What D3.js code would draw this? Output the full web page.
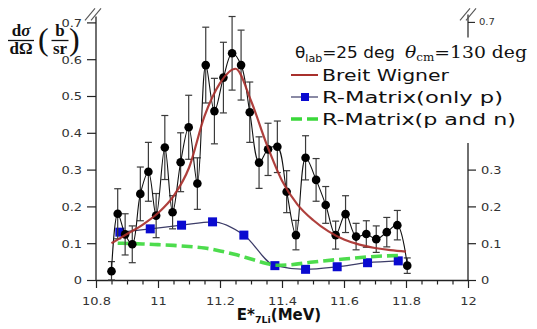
<!DOCTYPE html>
<html>
<head>
<meta charset="utf-8">
<script src="https://cdn.jsdelivr.net/npm/d3@7/dist/d3.min.js"></script>
<style>
  body { margin: 0; background: #fff; }
  svg { display: block; }
</style>
</head>
<body>
<svg id="chart" width="537" height="329"></svg>
<script>
// Measured differential cross section with statistical errors
const energy = [10.85, 10.87, 10.894, 10.917, 10.943, 10.969, 10.994, 11.022, 11.047, 11.073,
                11.099, 11.127, 11.154, 11.182, 11.211, 11.239, 11.268, 11.296, 11.326, 11.355,
                11.385, 11.415, 11.445, 11.476, 11.51, 11.541, 11.573, 11.605, 11.639, 11.672,
                11.704, 11.738, 11.772, 11.804];
const crossSection = [0.024, 0.18, 0.124, 0.097, 0.234, 0.294, 0.175, 0.36, 0.184, 0.32,
                      0.415, 0.262, 0.584, 0.459, 0.55, 0.616, 0.584, 0.456, 0.319, 0.355,
                      0.362, 0.24, 0.122, 0.332, 0.272, 0.204, 0.122, 0.179, 0.118, 0.125,
                      0.111, 0.13, 0.149, 0.039];
const crossSectionErr = [0.026, 0.068, 0.056, 0.05, 0.073, 0.08, 0.06, 0.087, 0.045, 0.08,
                         0.087, 0.07, 0.103, 0.089, 0.096, 0.1, 0.095, 0.082, 0.07, 0.071,
                         0.07, 0.057, 0.04, 0.06, 0.058, 0.05, 0.038, 0.05, 0.036, 0.036,
                         0.036, 0.04, 0.04, 0.021];

// Breit-Wigner fit
const bwEnergy = [10.85, 10.9, 10.95, 11.0, 11.05, 11.1, 11.15, 11.2, 11.25, 11.3,
                  11.35, 11.4, 11.45, 11.5, 11.55, 11.6, 11.65, 11.7, 11.75, 11.8];
const bwValue = [0.1, 0.125, 0.15, 0.182, 0.228, 0.305, 0.445, 0.535, 0.574, 0.487,
                 0.37, 0.27, 0.205, 0.163, 0.132, 0.11, 0.096, 0.087, 0.081, 0.077];

// R-matrix calculation, proton channel only
const rpEnergy = [10.877, 10.975, 11.076, 11.176, 11.277, 11.377, 11.476, 11.578, 11.676, 11.775];
const rpValue = [0.13, 0.139, 0.149, 0.158, 0.122, 0.039, 0.029, 0.036, 0.047, 0.052];

// R-matrix calculation, proton and neutron channels
const rpnEnergy = [10.87, 10.95, 11.0, 11.05, 11.1, 11.15, 11.2, 11.25, 11.3, 11.35,
                   11.38, 11.42, 11.5, 11.6, 11.7, 11.79];
const rpnValue = [0.1, 0.098, 0.096, 0.094, 0.091, 0.087, 0.079, 0.069, 0.057, 0.045,
                  0.04, 0.041, 0.049, 0.057, 0.064, 0.067];

// Axis ticks
const xTickLabels = [10.8, 11, 11.2, 11.4, 11.6, 11.8, 12];
const xMinorStep = 0.05;
const yLeftTicks = [0, 0.1, 0.2, 0.3, 0.4, 0.5, 0.6, 0.7];
const yRightTicks = [0, 0.1, 0.2, 0.3];

const legendLabels = ["Breit Wigner", "R-Matrix(only p)", "R-Matrix(p and n)"];

const svg = d3.select("#chart");
const x = d3.scaleLinear().domain([10.8, 12]).range([96, 468]);
const y = d3.scaleLinear().domain([0, 0.7]).range([280, 22.4]);

const AXIS = "#222";
const TICKFONT = "DejaVu Sans";
const SX = 1.18; // horizontal glyph stretch

// ---------- axes ----------
const xMinor = d3.range(0, Math.round((12 - 10.8) / xMinorStep) + 1).map(i => +(10.8 + i * xMinorStep).toFixed(2));
const isMajor = v => xTickLabels.some(t => Math.abs(t - v) < 1e-6);

const gx = svg.append("g").attr("transform", `translate(0,${y(0)})`)
  .call(d3.axisBottom(x).tickValues(xMinor).tickSizeOuter(0)
    .tickFormat(d => isMajor(d) ? d3.format("~g")(d) : ""));
gx.select(".domain").attr("stroke", AXIS).attr("stroke-width", 1.3);
gx.selectAll(".tick line").attr("stroke", AXIS).attr("stroke-width", 1.2)
  .attr("y2", d => isMajor(d) ? 8 : 4.5);
gx.selectAll(".tick text").attr("fill", "#333").attr("font-family", TICKFONT)
  .attr("font-size", 11).attr("y", 0).attr("dy", 0)
  .attr("transform", `translate(0,25) scale(${SX},1)`);

const gyl = svg.append("g").attr("transform", `translate(${x(10.8)},0)`)
  .call(d3.axisLeft(y).tickValues(yLeftTicks).tickSize(9).tickSizeOuter(0).tickFormat(d3.format("~g")));
gyl.select(".domain").attr("stroke", AXIS).attr("stroke-width", 1.3)
  .attr("d", `M0,${y(0)}V${y(0.7) - 6}`);
gyl.selectAll(".tick line").attr("stroke", AXIS).attr("stroke-width", 1.2);
gyl.selectAll(".tick text").attr("fill", "#333").attr("font-family", TICKFONT)
  .attr("font-size", 11).attr("x", 0).attr("dy", "0.35em")
  .attr("transform", `translate(-14,0) scale(${SX},1)`);

// right axis: lower segment with ticks, upper stub with the 0.7 tick
const gyr = svg.append("g").attr("transform", `translate(${x(12)},0)`)
  .call(d3.axisRight(y).tickValues(yRightTicks).tickSize(8).tickSizeOuter(0).tickFormat(d3.format("~g")));
gyr.select(".domain").attr("stroke", AXIS).attr("stroke-width", 1.3)
  .attr("d", `M0,${y(0)}V${y(0.372)}`);
gyr.selectAll(".tick line").attr("stroke", AXIS).attr("stroke-width", 1.2);
gyr.selectAll(".tick text").attr("fill", "#333").attr("font-family", TICKFONT)
  .attr("font-size", 11).attr("x", 0).attr("dy", "0.35em")
  .attr("transform", `translate(13,0) scale(${SX},1)`);

const stub = svg.append("g").attr("transform", `translate(${x(12)},0)`);
stub.append("line").attr("x1", 0).attr("x2", 0).attr("y1", y(0.7) - 8).attr("y2", y(0.7) + 15)
  .attr("stroke", AXIS).attr("stroke-width", 1.2);
stub.append("line").attr("x1", 0).attr("x2", 7).attr("y1", y(0.7)).attr("y2", y(0.7))
  .attr("stroke", AXIS).attr("stroke-width", 1.1);
stub.append("text").attr("x", 0).attr("y", 0).attr("dy", "0.35em")
  .attr("transform", `translate(11,${y(0.7)}) scale(${SX},1)`)
  .attr("font-family", TICKFONT).attr("font-size", 8.5).attr("fill", "#333").text("0.7");

// axis break marks
function breakMark(cx, cy) {
  [-3, 3].forEach(o => {
    svg.append("line")
      .attr("x1", cx + o - 5).attr("y1", cy + 6).attr("x2", cx + o + 5).attr("y2", cy - 6)
      .attr("stroke", "#555").attr("stroke-width", 1.1);
  });
}
breakMark(x(10.8) - 3, y(0.7) - 8);
breakMark(x(12) + 0, y(0.7) - 8);

// ---------- data marks ----------
const plot = svg.append("g");

// R-matrix (p and n) dashed curve
const rpnLine = d3.line().x(d => x(d[0])).y(d => y(d[1])).curve(d3.curveMonotoneX);
// R-matrix (only p) curve
const rpLine = d3.line().x(d => x(d[0])).y(d => y(d[1])).curve(d3.curveMonotoneX);
plot.append("path").datum(d3.zip(rpEnergy, rpValue))
  .attr("d", rpLine).attr("fill", "none").attr("stroke", "#3c3c68").attr("stroke-width", 1.2);
plot.selectAll(".rp").data(d3.zip(rpEnergy, rpValue)).join("rect").attr("class", "rp")
  .attr("x", d => x(d[0]) - 4.5).attr("y", d => y(d[1]) - 4.5)
  .attr("width", 9).attr("height", 9).attr("fill", "#0a0ad0");
plot.append("path").datum(d3.zip(rpnEnergy, rpnValue))
  .attr("d", rpnLine).attr("fill", "none").attr("stroke", "#3ad83a").attr("stroke-opacity", 0.9)
  .attr("stroke-width", 3.6).attr("stroke-dasharray", "11,5");

// measured data: error bars, connecting line, markers
const pts = d3.zip(energy, crossSection, crossSectionErr);
const eb = plot.append("g").attr("stroke", "#3a3a3a").attr("stroke-width", 1.2);
pts.forEach(([e, v, s]) => {
  const lo = Math.max(0, v - s), hi = v + s;
  eb.append("line").attr("x1", x(e)).attr("x2", x(e)).attr("y1", y(lo)).attr("y2", y(hi));
  eb.append("line").attr("x1", x(e) - 3.5).attr("x2", x(e) + 3.5).attr("y1", y(hi)).attr("y2", y(hi));
  eb.append("line").attr("x1", x(e) - 3.5).attr("x2", x(e) + 3.5).attr("y1", y(lo)).attr("y2", y(lo));
});
plot.append("path").datum(pts)
  .attr("d", d3.line().x(d => x(d[0])).y(d => y(d[1])).curve(d3.curveCatmullRom.alpha(0.5)))
  .attr("fill", "none").attr("stroke", "#111").attr("stroke-width", 1.1);
plot.selectAll(".pt").data(pts).join("circle").attr("class", "pt")
  .attr("cx", d => x(d[0])).attr("cy", d => y(d[1])).attr("r", 4.3).attr("fill", "#000");

// Breit-Wigner curve
plot.append("path").datum(d3.zip(bwEnergy, bwValue))
  .attr("d", d3.line().x(d => x(d[0])).y(d => y(d[1])).curve(d3.curveMonotoneX))
  .attr("fill", "none").attr("stroke", "#a8302c").attr("stroke-opacity", 0.92).attr("stroke-width", 2.2);

// ---------- legend ----------
const leg = svg.append("g");
const lt = leg.append("text").attr("x", 295).attr("y", 58)
  .attr("font-family", "DejaVu Sans").attr("font-size", 16).attr("fill", "#111")
  .attr("textLength", 100).attr("lengthAdjust", "spacingAndGlyphs");
lt.append("tspan").text("θ");
lt.append("tspan").attr("font-size", 10.5).attr("dy", 4).text("lab");
lt.append("tspan").attr("dy", -4).text("=25 deg");
const lt2 = leg.append("text").attr("x", 405).attr("y", 58)
  .attr("font-family", "DejaVu Serif").attr("font-size", 16.5).attr("fill", "#111")
  .attr("textLength", 122).attr("lengthAdjust", "spacingAndGlyphs");
lt2.append("tspan").attr("font-style", "italic").text("θ");
lt2.append("tspan").attr("font-size", 10.5).attr("dy", 3).text("cm");
lt2.append("tspan").attr("dy", -3).text("=130 deg");

const legRows = [
  { y: 75, label: legendLabels[0], width: 127 },
  { y: 97, label: legendLabels[1], width: 181 },
  { y: 119, label: legendLabels[2], width: 194 }
];
legRows.forEach(r => {
  leg.append("text").attr("x", 322).attr("y", r.y).attr("dy", "0.36em")
    .attr("font-family", "DejaVu Sans").attr("font-size", 16).attr("fill", "#111")
    .attr("textLength", r.width).attr("lengthAdjust", "spacingAndGlyphs").text(r.label);
});
leg.append("line").attr("x1", 291).attr("x2", 318).attr("y1", 75).attr("y2", 75)
  .attr("stroke", "#a8302c").attr("stroke-width", 2);
leg.append("line").attr("x1", 291).attr("x2", 318).attr("y1", 97).attr("y2", 97)
  .attr("stroke", "#3c3c68").attr("stroke-width", 1.2);
leg.append("rect").attr("x", 301).attr("y", 93).attr("width", 8).attr("height", 8).attr("fill", "#0a0ad0");
leg.append("line").attr("x1", 291).attr("x2", 320).attr("y1", 119).attr("y2", 119)
  .attr("stroke", "#3ad83a").attr("stroke-width", 3.6).attr("stroke-dasharray", "11,5");

// ---------- axis titles ----------
const xt = svg.append("text").attr("x", 0).attr("y", 0)
  .attr("transform", `translate(279,320)`).attr("text-anchor", "middle")
  .attr("font-family", "DejaVu Sans").attr("font-weight", "bold").attr("font-size", 15).attr("fill", "#111");
xt.append("tspan").text("E*");
xt.append("tspan").attr("font-size", 9.5).attr("dy", 3).text("7Li");
xt.append("tspan").attr("dy", -3).text("(MeV)");

// y title: dσ/dΩ (b/sr)
const yt = svg.append("g").attr("font-family", "Liberation Serif").attr("fill", "#111");
const frac = (cx, num, den, w) => {
  const n = yt.append("text").attr("x", cx).attr("y", 36).attr("text-anchor", "middle")
    .attr("font-size", 17).attr("font-weight", "bold");
  num.forEach(p => n.append("tspan").attr("font-style", p.it ? "italic" : "normal").text(p.t));
  yt.append("line").attr("x1", cx - w / 2).attr("x2", cx + w / 2).attr("y1", 40.5).attr("y2", 40.5)
    .attr("stroke", "#111").attr("stroke-width", 1.3);
  const d = yt.append("text").attr("x", cx).attr("y", 54).attr("text-anchor", "middle")
    .attr("font-size", 17).attr("font-weight", "bold");
  den.forEach(p => d.append("tspan").attr("font-style", p.it ? "italic" : "normal").text(p.t));
};
frac(21, [{ t: "d" }, { t: "σ", it: true }], [{ t: "dΩ" }], 26);
yt.append("text").attr("x", 38).attr("y", 50).attr("font-size", 32).text("(");
frac(60, [{ t: "b" }], [{ t: "sr" }], 17);
yt.append("text").attr("x", 69).attr("y", 50).attr("font-size", 32).text(")");
</script>
</body>
</html>
